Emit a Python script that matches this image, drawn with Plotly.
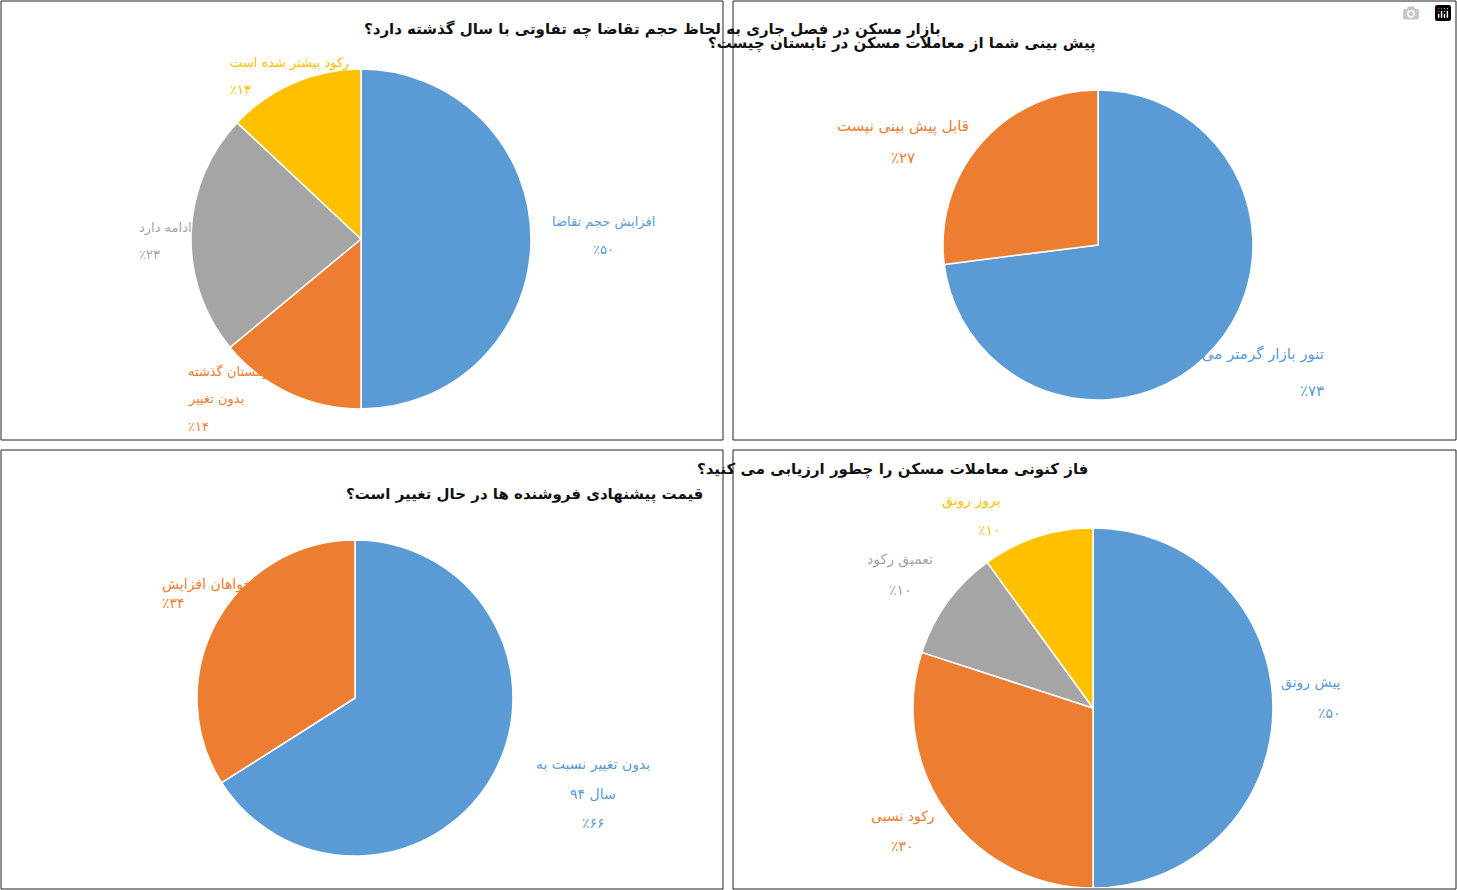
import plotly.graph_objects as go

W, H = 1457, 890
FONT = "DejaVu Sans"
BLUE, ORANGE, GRAY, YELLOW = "#5B9BD5", "#ED7D31", "#A5A5A5", "#FFC000"
LRM = "\u200e"

# data
tl_title = "بازار مسکن در فصل جاری به لحاظ حجم تقاضا چه تفاوتی با سال گذشته دارد؟"
tl_labels = ["افزایش حجم تقاضا", "بدون تغییر نسبت به زمستان گذشته", "رکود ادامه دارد", "رکود بیشتر شده است"]
tl_values = [50, 14, 23, 13]
tl_pct = ["٪۵۰", "٪۱۴", "٪۲۳", "٪۱۳"]

tr_title = "پیش بینی شما از معاملات مسکن در تابستان چیست؟"
tr_labels = ["تنور بازار گرمتر می شود", "قابل پیش بینی نیست"]
tr_values = [73, 27]
tr_pct = ["٪۷۳", "٪۲۷"]

bl_title = "قیمت پیشنهادی فروشنده ها در حال تغییر است؟"
bl_labels = ["بدون تغییر نسبت به سال ۹۴", "خواهان افزایش"]
bl_values = [66, 34]
bl_pct = ["٪۶۶", "٪۳۴"]

br_title = "فاز کنونی معاملات مسکن را چطور ارزیابی می کنید؟"
br_labels = ["پیش رونق", "رکود نسبی", "تعمیق رکود", "بروز رونق"]
br_values = [50, 30, 10, 10]
br_pct = ["٪۵۰", "٪۳۰", "٪۱۰", "٪۱۰"]


def px_x(x):
    return x / W


def px_y(y):
    return 1 - y / H


fig = go.Figure()
ann = []


def add_pie(labels, values, colors, cx, cy, r):
    fig.add_trace(go.Pie(
        labels=labels, values=values, sort=False, direction="clockwise",
        marker=dict(colors=colors, line=dict(color="white", width=1.5)),
        textinfo="none", hoverinfo="label+percent", showlegend=False,
        domain=dict(x=[px_x(cx - r), px_x(cx + r)], y=[px_y(cy + r), px_y(cy - r)]),
    ))


def label(lines, color, x, y, size=13, step=28):
    for i, t in enumerate(lines):
        ann.append(dict(text=LRM + t + LRM, x=px_x(x), y=px_y(y + i * step), xref="paper", yref="paper",
                        showarrow=False, font=dict(family=FONT, size=size, color=color)))


def title(t, x, y):
    ann.append(dict(text=LRM + "<b>" + t + "</b>" + LRM, x=px_x(x), y=px_y(y), xref="paper", yref="paper",
                    showarrow=False, font=dict(family=FONT, size=15, color="#111")))


add_pie(tl_labels, tl_values, [BLUE, ORANGE, GRAY, YELLOW], 361, 239, 170)
add_pie(tr_labels, tr_values, [BLUE, ORANGE], 1098, 245, 155)
add_pie(bl_labels, bl_values, [BLUE, ORANGE], 355, 698, 158)
add_pie(br_labels, br_values, [BLUE, ORANGE, GRAY, YELLOW], 1093, 708, 180)

title(tl_title, 362, 18)
title(tr_title, 1098, 32)
title(bl_title, 344, 494)
title(br_title, 1090, 470)

label([tl_labels[3], tl_pct[3]], YELLOW, 228, 53, step=27)
label([tl_labels[0], tl_pct[0]], BLUE, 603, 212)
label([tl_labels[2], tl_pct[2]], GRAY, 137, 218, step=27)
label(["نسبت به زمستان گذشته", "بدون تغییر", tl_pct[1]], ORANGE, 186, 372, step=27)

label([tr_labels[1], tr_pct[1]], ORANGE, 903, 115, size=15, step=32)
label([tr_labels[0], tr_pct[0]], BLUE, 1326, 354, size=15, step=37)

label([bl_labels[1], bl_pct[1]], ORANGE, 160, 584, size=14, step=29)
label(["بدون تغییر نسبت به", "سال ۹۴", bl_pct[0]], BLUE, 593, 775, size=14, step=29)

label([br_labels[3], br_pct[3]], YELLOW, 1003, 500, size=14, step=30)
label([br_labels[2], br_pct[2]], GRAY, 900, 559, size=14, step=31)
label([br_labels[0], br_pct[0]], BLUE, 1343, 693, size=14, step=30)
label([br_labels[1], br_pct[1]], ORANGE, 903, 827, size=14, step=29)

shapes = []
for x0, y0, x1, y1 in [(1, 1, 723, 440), (733, 1, 1456, 440), (1, 450, 723, 889), (733, 450, 1456, 889)]:
    shapes.append(dict(type="rect", xref="paper", yref="paper",
                       x0=px_x(x0), x1=px_x(x1), y0=px_y(y1), y1=px_y(y0),
                       line=dict(color="#222", width=1)))

fig.update_layout(width=W, height=H, margin=dict(l=0, r=0, t=0, b=0),
                  paper_bgcolor="white", annotations=ann, shapes=shapes,
                  font=dict(family=FONT))
fig.write_html("out.html", post_script="document.body.style.margin='0';document.body.style.overflow='hidden';")
